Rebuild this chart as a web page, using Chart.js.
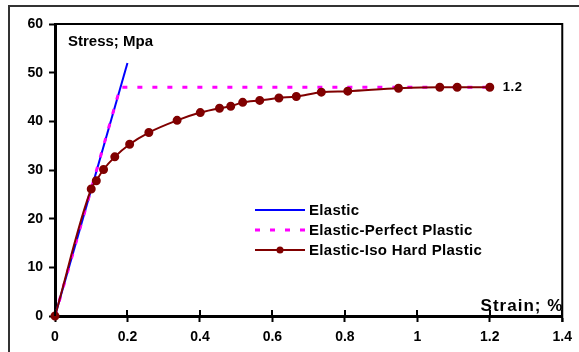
<!DOCTYPE html>
<html>
<head>
<meta charset="utf-8">
<script src="https://cdn.jsdelivr.net/npm/chart.js@4"></script>
<style>
  html, body { margin: 0; padding: 0; background: #fff; }
  #wrap { width: 579px; height: 352px; }
</style>
</head>
<body>
<div id="wrap"><canvas id="grafico" width="579" height="352"></canvas></div>
<script>
// datos
const elasticStrain = [0, 0.2];
const elasticStress = [0, 52];

const perfectStrain = [0, 0.18, 1.2];
const perfectStress = [0, 47, 47];

const isoStrain = [0, 0.1, 0.114, 0.134, 0.165, 0.206, 0.259, 0.337, 0.401, 0.454, 0.485,
  0.518, 0.565, 0.618, 0.666, 0.735, 0.808, 0.948, 1.062, 1.11, 1.2];
const isoStress = [0, 26.1, 27.8, 30.1, 32.7, 35.3, 37.7, 40.2, 41.8, 42.7, 43.1,
  43.9, 44.3, 44.8, 45.1, 46.0, 46.2, 46.8, 47.0, 47.0, 47.0];

const xTicks = [0, 0.2, 0.4, 0.6, 0.8, 1, 1.2, 1.4];
const yTicks = [0, 10, 20, 30, 40, 50, 60];

const seriesNames = ["Elastic", "Elastic-Perfect Plastic", "Elastic-Iso Hard Plastic"];
const yLabel = "Stress; Mpa";
const xLabel = "Strain; %";
const endLabel = "1.2";

const FONT = "'Liberation Sans', Arial, sans-serif";

const puntos = (xs, ys) => xs.map((x, i) => ({ x, y: ys[i] }));

// marco, ejes y textos extra
const decoracion = {
  id: "decoracion",
  beforeDraw(chart) {
    const ctx = chart.ctx;
    ctx.save();
    ctx.strokeStyle = "#333";
    ctx.lineWidth = 2;
    ctx.strokeRect(9, 6, 700, 700);
    ctx.restore();
  },
  afterDraw(chart) {
    const ctx = chart.ctx;
    const a = chart.chartArea;
    const xs = chart.scales.x;
    ctx.save();
    ctx.strokeStyle = "#000";
    ctx.lineWidth = 2;
    ctx.beginPath();
    ctx.moveTo(a.left, a.top);
    ctx.lineTo(a.right, a.top);
    ctx.lineTo(a.right, a.bottom + 6);
    ctx.stroke();

    // marcas que cruzan el eje x
    xs.ticks.forEach(t => {
      const px = Math.round(xs.getPixelForValue(t.value));
      ctx.beginPath();
      ctx.moveTo(px, a.bottom - 6);
      ctx.lineTo(px, a.bottom);
      ctx.stroke();
    });

    ctx.fillStyle = "#000";
    ctx.textBaseline = "alphabetic";
    ctx.font = "bold 15px " + FONT;
    ctx.textAlign = "left";
    ctx.fillText(yLabel, a.left + 13, 46);

    ctx.letterSpacing = "1px";
    ctx.font = "bold 17px " + FONT;
    ctx.textAlign = "right";
    ctx.fillText(xLabel, a.right + 1, a.bottom - 5);

    // etiqueta del ultimo punto
    const iso = chart.data.datasets[2].data;
    const ult = iso[iso.length - 1];
    ctx.letterSpacing = "0.5px";
    ctx.font = "bold 13px " + FONT;
    ctx.textAlign = "left";
    ctx.textBaseline = "middle";
    ctx.fillText(endLabel, xs.getPixelForValue(ult.x) + 13, chart.scales.y.getPixelForValue(ult.y));

    // leyenda
    const lx = a.left + 200;
    let ly = 210;
    ctx.font = "bold 15px " + FONT;
    ctx.letterSpacing = "0.3px";
    chart.data.datasets.forEach(ds => {
      ctx.save();
      ctx.strokeStyle = ds.borderColor;
      ctx.lineWidth = ds.borderWidth;
      ctx.setLineDash(ds.borderDash || []);
      ctx.beginPath();
      ctx.moveTo(lx, ly);
      ctx.lineTo(lx + 50, ly);
      ctx.stroke();
      if (ds.pointRadius > 0) {
        ctx.fillStyle = ds.borderColor;
        ctx.beginPath();
        ctx.arc(lx + 25, ly, ds.pointRadius, 0, Math.PI * 2);
        ctx.fill();
      }
      ctx.restore();
      ctx.fillStyle = "#000";
      ctx.textAlign = "left";
      ctx.textBaseline = "middle";
      ctx.fillText(ds.label, lx + 54, ly + 1);
      ly += 20;
    });
    ctx.restore();
  }
};

const tickFont = { family: FONT, size: 14, weight: "bold" };

new Chart(document.getElementById("grafico").getContext("2d"), {
  type: "scatter",
  data: {
    datasets: [
      {
        label: seriesNames[0],
        data: puntos(elasticStrain, elasticStress),
        showLine: true,
        borderColor: "#0000FF",
        borderWidth: 2,
        pointRadius: 0,
        order: 2
      },
      {
        label: seriesNames[1],
        data: puntos(perfectStrain, perfectStress),
        showLine: true,
        borderColor: "#FF00FF",
        borderWidth: 3,
        borderDash: [5, 10],
        pointRadius: 0,
        order: 1
      },
      {
        label: seriesNames[2],
        data: puntos(isoStrain, isoStress),
        showLine: true,
        borderColor: "#800000",
        backgroundColor: "#800000",
        pointBackgroundColor: "#800000",
        pointBorderColor: "#800000",
        borderWidth: 2,
        pointRadius: 3.5,
        cubicInterpolationMode: "monotone",
        clip: false,
        order: 0
      }
    ]
  },
  options: {
    responsive: false,
    animation: false,
    layout: { padding: { top: 24, right: 14, left: 0, bottom: 0 } },
    plugins: {
      legend: { display: false },
      tooltip: { enabled: false }
    },
    scales: {
      x: {
        type: "linear",
        min: 0,
        max: 1.4,
        afterBuildTicks: s => { s.ticks = xTicks.map(v => ({ value: v })); },
        afterFit: s => { s.height = 36; },
        ticks: {
          color: "#000",
          font: tickFont,
          padding: 7,
          maxRotation: 0,
          callback: v => String(Math.round(v * 10) / 10)
        },
        grid: { drawOnChartArea: false, tickLength: 6, tickWidth: 2, tickColor: "#000" },
        border: { color: "#000", width: 3 }
      },
      y: {
        min: 0,
        max: 60,
        afterBuildTicks: s => { s.ticks = yTicks.map(v => ({ value: v })); },
        afterFit: s => { s.width = 55; },
        ticks: { color: "#000", font: tickFont, padding: 6 },
        grid: { drawOnChartArea: false, tickLength: 6, tickWidth: 2, tickColor: "#000" },
        border: { color: "#000", width: 3 }
      }
    }
  },
  plugins: [decoracion]
});
</script>
</body>
</html>
